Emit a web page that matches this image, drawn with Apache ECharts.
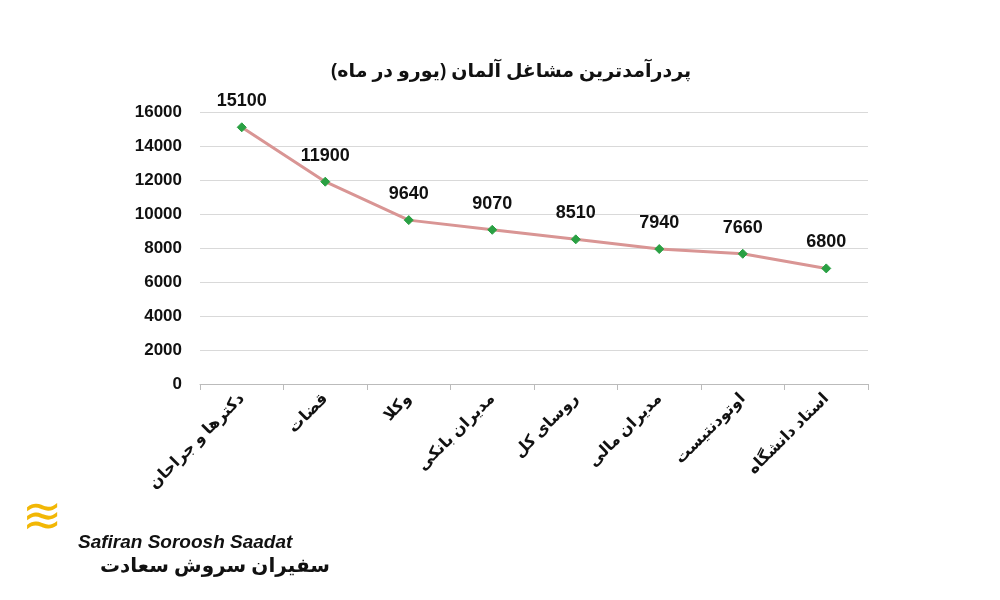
<!DOCTYPE html>
<html><head><meta charset="utf-8">
<script src="https://cdn.jsdelivr.net/npm/echarts@6/dist/echarts.min.js"></script>
<style>html,body{margin:0;background:#fff}#c{width:1000px;height:600px}</style>
</head><body><div id="c"></div>
<script>
const categories = ["دکترها و جراحان","قضات","وکلا","مدیران بانکی","روسای کل","مدیران مالی","اوتودنتیست","استاد دانشگاه"];
const salaries = [15100, 11900, 9640, 9070, 8510, 7940, 7660, 6800];
const yTicks = [0,2000,4000,6000,8000,10000,12000,14000,16000];
const chart = echarts.init(document.getElementById('c'));
chart.setOption({
  backgroundColor:'#fff',
  title:{text:'پردرآمدترین مشاغل آلمان (یورو در ماه)',left:506,top:57,textAlign:'center',
    textStyle:{fontFamily:'Noto Sans, DejaVu Sans',fontSize:19,fontWeight:'bold',color:'#111'}},
  grid:{left:200,right:132,top:112,bottom:216},
  xAxis:{type:'category',data:categories,boundaryGap:true,
    axisLine:{lineStyle:{color:'#bbb'}},axisTick:{show:true,length:6,lineStyle:{color:'#bbb'}},
    axisLabel:{rotate:45,interval:0,color:'#111',fontSize:16,fontWeight:'bold',fontFamily:'Noto Sans, DejaVu Sans',margin:12}},
  yAxis:{type:'value',min:yTicks[0],max:yTicks[yTicks.length-1],interval:2000,
    axisLine:{show:false},axisTick:{show:false},
    splitLine:{lineStyle:{color:'#d9d9d9'}},
    axisLabel:{color:'#111',fontSize:17,fontWeight:'bold',fontFamily:'Liberation Sans, Arial',margin:18,formatter:v=>String(v)}},
  series:[{type:'line',data:salaries,symbol:'diamond',symbolSize:9,
    lineStyle:{color:'#d99594',width:3},itemStyle:{color:'#2aa043',borderColor:'#2aa043'},
    label:{show:true,position:'top',distance:12,color:'#111',fontSize:18,fontWeight:'bold',fontFamily:'Liberation Sans, Arial'}}],
  graphic:[
    {type:'text',left:78,top:533,style:{text:'Safiran Soroosh Saadat',fontSize:19,fontWeight:'bold',fontStyle:'italic',fill:'#111',fontFamily:'Liberation Sans'}},
    {type:'text',left:100,top:556,style:{text:'سفیران سروش سعادت',fontSize:20,fontWeight:'bold',fill:'#111',fontFamily:'Noto Sans, DejaVu Sans'}},
    {type:'text',left:22,top:495,style:{text:'≋',fontSize:48,fill:'#f2b705'}}
  ]
});
</script></body></html>
